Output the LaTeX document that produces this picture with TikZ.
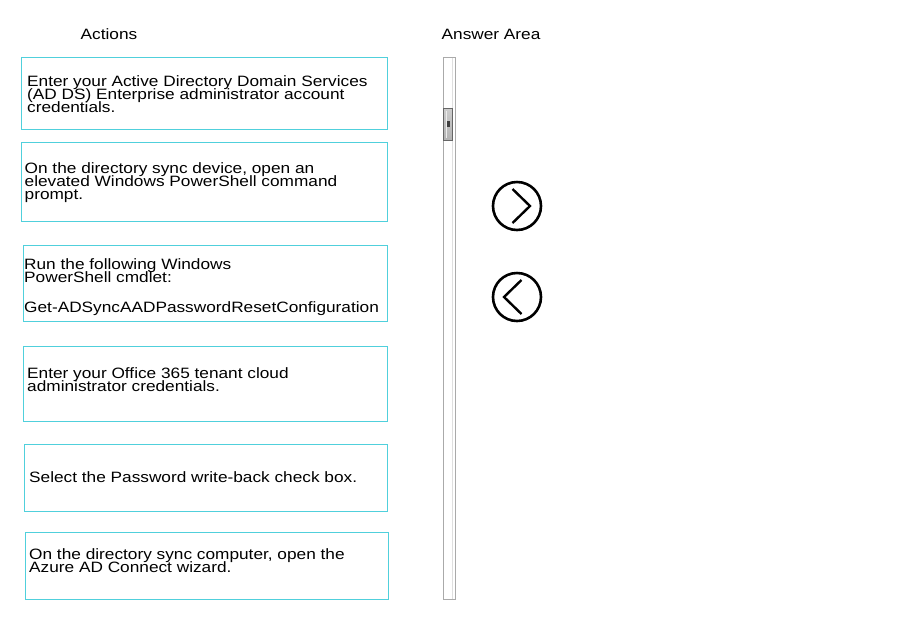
\documentclass[tikz,border=0pt]{standalone}
\usepackage{fontspec}
\setmainfont{Liberation Sans}[FakeStretch=1.15]

\definecolor{boxcyan}{RGB}{80,208,220}
\definecolor{trackgray}{RGB}{170,170,170}

% tight lines, as in the reference
\newcommand{\actionfont}{\fontsize{15}{13}\selectfont\lineskiplimit-20pt\relax}

\tikzset{
    actionbox/.style={draw=boxcyan, line width=1.2pt, inner sep=0pt, outer sep=0pt},
    % anchored at the baseline of the last line
    actiontext/.style={anchor=base west, inner sep=0pt, align=left, font=\actionfont},
    header/.style={anchor=base west, inner sep=0pt, font=\fontsize{15}{18}\selectfont},
    movebtn/.style={draw, circle, line width=2.6pt, minimum size=48pt, inner sep=0pt},
    chevron/.style={line width=2.4pt, line join=miter}
}

\begin{document}
\begin{tikzpicture}[x=1pt, y=-1pt]
    \useasboundingbox[fill=white] (0,0) rectangle (916,633);

    % column headers
    \node[header] (actionshead) at (80.5,39) {Actions};
    \node[header] (answerhead) at (441.5,39) {Answer Area};

    % action boxes: left, top, right, bottom
    \foreach \name/\l/\t/\r/\b in {boxa/21.5/57.5/387.5/129.5, boxb/21.5/142.5/387.5/221.5,
        boxc/23.5/245.5/387.5/321.5, boxd/23.5/346.5/387.5/421.5,
        boxe/24.5/444.5/387.5/511.5, boxf/25.5/532.5/388.5/599.5} {
        \node[actionbox, minimum width={(\r-\l)*1pt}, minimum height={(\b-\t)*1pt},
            anchor=north west] (\name) at (\l,\t) {};
    }

    % texts of the actions
    \node[actiontext] (texta) at (27,112.5)
        {Enter your Active Directory Domain Services\\(AD DS) Enterprise administrator account\\credentials.};
    \node[actiontext] (textb) at (24.5,199)
        {On the directory sync device, open an\\elevated Windows PowerShell command\\prompt.};
    \node[actiontext] (textc) at (24,282.5)
        {Run the following Windows\\PowerShell cmdlet:};
    \node[actiontext] (textcc) at (24,312)
        {Get-ADSyncAADPasswordResetConfiguration};
    \node[actiontext] (textd) at (27,391.5)
        {Enter your Office 365 tenant cloud\\administrator credentials.};
    \node[actiontext] (texte) at (29,482)
        {Select the Password write-back check box.};
    \node[actiontext] (textf) at (29,572)
        {On the directory sync computer, open the\\Azure AD Connect wizard.};

    % scroll bar of the answer area
    \draw[trackgray, line width=0.8pt] (443.5,57.5) rectangle (455.5,599.5);
    \draw[gray!25, line width=0.4pt] (452.5,58) -- (452.5,599);
    \shade[top color=gray!40, bottom color=gray!60, draw=gray!80!black, line width=0.8pt]
        (443.5,108.5) rectangle (452.5,140.5);
    \fill[gray!15] (445.5,111) rectangle (447,138);
    \fill[black!75] (446.5,120.5) rectangle (450,126.5);

    % move buttons
    \node[movebtn] (moveright) at (517,206) {};
    \node[movebtn] (moveleft) at (517,297) {};
    \draw[chevron] ([shift={(-4.5,-17)}]moveright.center) -- ([shift={(13,0)}]moveright.center)
        -- ([shift={(-4.5,17)}]moveright.center);
    \draw[chevron] ([shift={(4.5,-17)}]moveleft.center) -- ([shift={(-13,0)}]moveleft.center)
        -- ([shift={(4.5,17)}]moveleft.center);
\end{tikzpicture}
\end{document}
